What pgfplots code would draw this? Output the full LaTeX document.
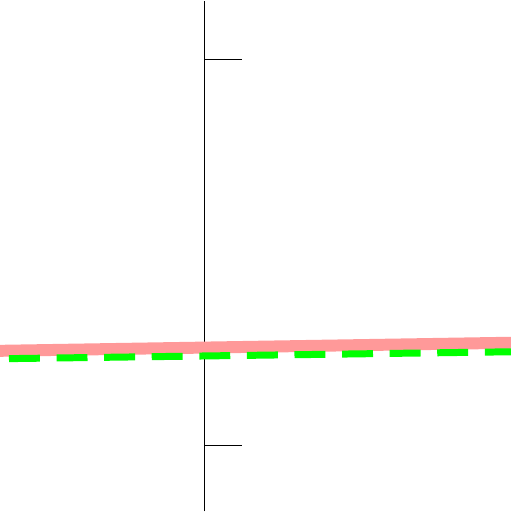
\documentclass[border=0pt]{standalone}
\usepackage{pgfplots}
\pgfplotsset{compat=1.18}
\definecolor{pinkline}{RGB}{255,153,153}
\definecolor{greenline}{RGB}{0,255,0}
\begin{document}
\begin{tikzpicture}
\begin{axis}[
  width=512bp, height=512bp, scale only axis,
  xmin=-205, xmax=307, ymin=0, ymax=512,
  axis x line=none, axis y line=center,
  axis line style={-, black, line width=1.2bp},
  ytick={66,453}, yticklabels={},
  tick align=inside,
  major tick length=38bp,
  tick style={black, line width=1bp},
  clip=true,
]
\addplot[pinkline, line width=12bp, line cap=butt] coordinates {(-215,160.8) (317,169.2)};
\addplot[greenline, line width=7bp, line cap=butt, dash pattern=on 31bp off 16.7bp, dash phase=38.7bp] coordinates {(-205,153) (307,160)};
\end{axis}
\end{tikzpicture}
\end{document}
